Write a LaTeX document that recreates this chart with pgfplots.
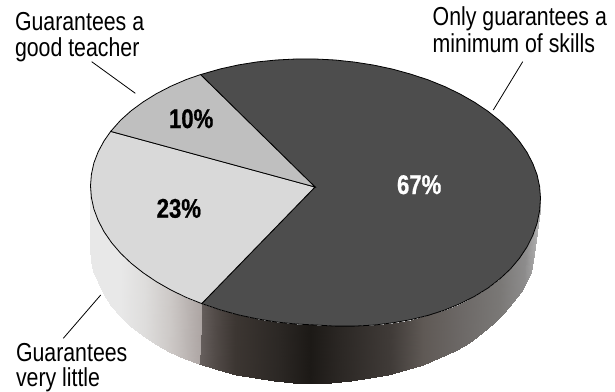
\documentclass[border=0pt]{standalone}
\usepackage{fontspec}
\usepackage{pgfplots}
\pgfplotsset{compat=1.18}
\usepgfplotslibrary{patchplots}
\setmainfont{Liberation Sans}
\newfontfamily\lab[FakeStretch=0.82]{Liberation Sans}
\newfontfamily\val[FakeStretch=0.82, BoldFeatures={FakeBold=0.7}]{Liberation Sans}

\definecolor{sliceDark}{HTML}{4D4D4D}
\definecolor{sliceLight}{HTML}{D9D9D9}
\definecolor{sliceMid}{HTML}{BFBFBF}

% Shading of the pie's rim, keyed on horizontal position
\pgfplotsset{
  colormap={rimLight}{
    rgb255(90pt)=(232,232,232);
    rgb255(120pt)=(232,232,232);
    rgb255(145pt)=(222,221,220);
    rgb255(170pt)=(205,201,199);
    rgb255(202pt)=(172,164,162)},
  colormap={rimDark}{
    rgb255(198pt)=(105,98,96);
    rgb255(215pt)=(82,75,72);
    rgb255(235pt)=(60,54,50);
    rgb255(280pt)=(43,39,36);
    rgb255(310pt)=(28,25,22);
    rgb255(340pt)=(43,39,36);
    rgb255(390pt)=(64,59,56);
    rgb255(423pt)=(95,89,85);
    rgb255(460pt)=(108,104,102);
    rgb255(500pt)=(122,120,118);
    rgb255(525pt)=(141,140,140);
    rgb255(541pt)=(187,187,187)},
}

\begin{document}
\begin{tikzpicture}[every node/.append style={inner sep=0pt, outer sep=0pt}]
\path[use as bounding box] (0,0) rectangle (615bp,392bp);
\begin{axis}[
  at={(0,0)}, anchor=south west,
  scale only axis, width=615bp, height=392bp,
  xmin=0, xmax=615, ymin=0, ymax=392, y dir=reverse,
  hide axis, clip=false,
]
% rim under the 67% slice
\addplot[surf, shader=interp, colormap name=rimDark, mesh/rows=2, point meta=x,
         point meta rel=per plot, point meta min=198, point meta max=541] table {
x y
540.5 198.1
539.6 210.7
537.1 223.1
532.8 235.3
526.9 247.1
519.4 258.3
510.4 269.0
499.8 278.9
487.9 288.1
474.6 296.3
460.1 303.7
444.6 310.1
428.0 315.4
410.6 319.7
392.5 322.9
373.7 325.1
354.6 326.1
335.1 326.1
315.5 325.0
295.9 324.0
276.4 322.0
257.3 318.9
238.5 314.9
220.4 309.9
201.7 303.6
534.0 249.0
533.2 260.7
530.6 271.8
526.4 281.7
520.6 291.8
513.2 302.0
504.3 312.5
493.9 323.0
482.1 333.0
469.0 342.8
454.7 351.0
439.3 358.3
423.0 364.8
405.8 370.4
387.9 374.9
369.5 378.4
350.5 381.0
331.4 382.5
312.0 383.0
292.6 382.5
273.5 381.0
254.5 378.4
236.1 374.9
218.2 370.4
199.0 363.5
};
% rim under the 23% slice
\addplot[surf, shader=interp, colormap name=rimLight, mesh/rows=2, point meta=x,
         point meta rel=per plot, point meta min=90, point meta max=202] table {
x y
201.7 303.6
186.4 297.5
170.9 290.0
156.4 281.7
143.2 272.8
131.2 263.3
120.6 253.2
111.6 242.7
104.1 231.8
98.2 220.5
93.9 209.1
91.4 197.6
90.5 185.9
199.0 363.5
184.7 358.8
169.3 351.6
155.0 343.8
141.9 335.1
130.1 325.9
119.7 316.0
110.8 305.6
103.4 292.5
97.6 281.5
93.4 271.0
90.8 260.7
90.0 249.0
};
% 67% slice
\addplot[fill=sliceDark, draw=black, line width=0.8bp, line join=miter] coordinates {
(315,187) (200.5,74.6) (220.4,68.9) (238.5,64.9) (257.3,61.9) (276.4,60.0) (295.9,59.0)
(315.5,59.0) (335.1,60.0) (354.6,62.1) (373.7,65.1) (392.5,69.1) (410.6,74.1) (428.0,79.8)
(444.6,86.5) (460.1,94.0) (474.6,102.3) (487.9,111.2) (499.8,120.7) (510.4,130.8) (519.4,141.3)
(526.9,152.2) (532.8,163.5) (537.1,174.9) (539.6,186.5) (540.5,198.1) (539.6,210.7) (537.1,223.1)
(532.8,235.3) (526.9,247.1) (519.4,258.3) (510.4,269.0) (499.8,278.9) (487.9,288.1) (474.6,296.3)
(460.1,303.7) (444.6,310.1) (428.0,315.4) (410.6,319.7) (392.5,322.9) (373.7,325.1) (354.6,326.1)
(335.1,326.1) (315.5,325.0) (295.9,324.0) (276.4,322.0) (257.3,318.9) (238.5,314.9) (220.4,309.9)
(201.7,303.6) (315,187)
} -- cycle;
% 23% slice
\addplot[fill=sliceLight, draw=black, line width=0.8bp, line join=miter] coordinates {
(315,187) (201.7,303.6) (186.4,297.5) (170.9,290.0) (156.4,281.7) (143.2,272.8) (131.2,263.3)
(120.6,253.2) (111.6,242.7) (104.1,231.8) (98.2,220.5) (93.9,209.1) (91.4,197.6) (90.5,185.9)
(91.4,174.4) (93.9,162.9) (98.2,151.7) (104.1,140.8) (110.7,131.4) (315,187)
} -- cycle;
% 10% slice
\addplot[fill=sliceMid, draw=black, line width=0.8bp, line join=miter] coordinates {
(315,187) (110.7,131.4) (120.6,120.2) (131.2,110.7) (143.2,101.9) (156.4,93.7) (170.9,86.2)
(186.4,79.5) (200.5,74.6) (315,187)
} -- cycle;
% leader lines
\addplot[black, line width=0.8bp] coordinates {(91.7,61.7) (135.3,93.3)};
\addplot[black, line width=0.8bp] coordinates {(522.7,61.7) (493.3,110)};
\addplot[black, line width=0.8bp] coordinates {(100.7,295) (63.3,338.3)};

% category labels
\node[anchor=base west, font=\lab\fontsize{26bp}{26bp}\selectfont] at (axis cs:15,30.7) {Guarantees a};
\node[anchor=base west, font=\lab\fontsize{26bp}{26bp}\selectfont] at (axis cs:15,56.7) {good teacher};
\node[anchor=base west, font=\lab\fontsize{26bp}{26bp}\selectfont] at (axis cs:432.7,26) {Only guarantees a};
\node[anchor=base west, font=\lab\fontsize{26bp}{26bp}\selectfont] at (axis cs:432.7,52.7) {minimum of skills};
\node[anchor=base west, font=\lab\fontsize{26bp}{26bp}\selectfont] at (axis cs:16,361) {Guarantees};
\node[anchor=base west, font=\lab\fontsize{26bp}{26bp}\selectfont] at (axis cs:16,386.7) {very little};
% value labels
\node[anchor=base west, font=\val\bfseries\fontsize{27bp}{26bp}\selectfont] at (axis cs:169,128) {10\%};
\node[anchor=base west, font=\val\bfseries\fontsize{27bp}{26bp}\selectfont] at (axis cs:156.7,217.7) {23\%};
\node[anchor=base west, text=white, font=\val\bfseries\fontsize{27bp}{26bp}\selectfont] at (axis cs:397,194) {67\%};
\end{axis}
\end{tikzpicture}
\end{document}
